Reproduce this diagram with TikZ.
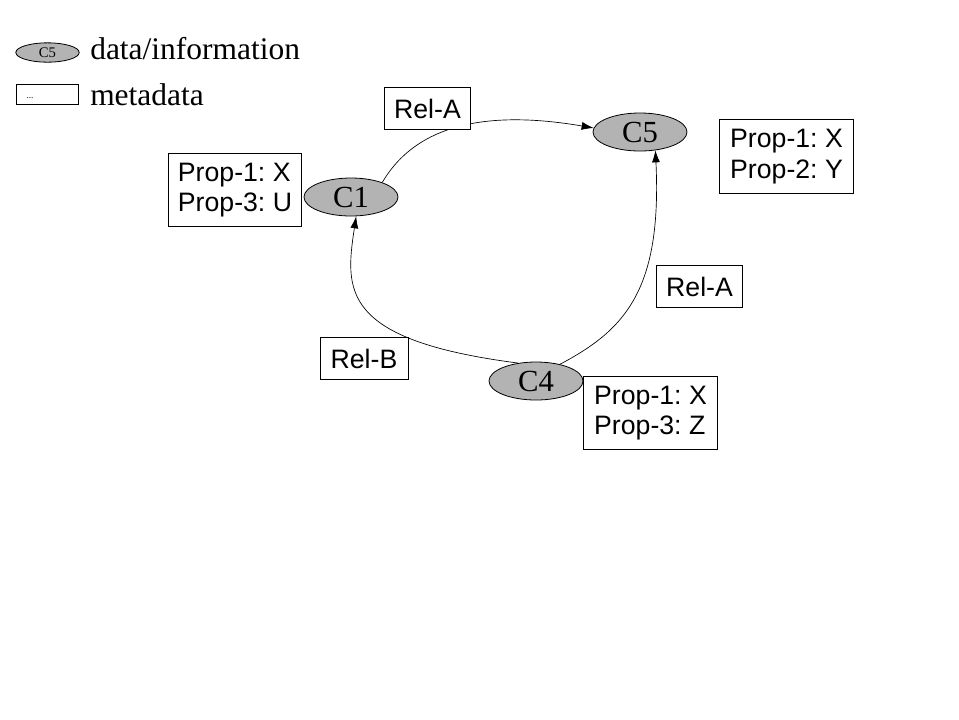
\documentclass[tikz,border=0pt]{standalone}
\usepackage{fontspec}
\setmainfont{Liberation Serif}
\newfontfamily\arialf{Liberation Sans}
\usetikzlibrary{shapes.geometric,arrows.meta}
\definecolor{nodegray}{RGB}{179,179,179}
\frenchspacing
\tikzset{
  datanode/.style={ellipse, draw=black, line width=0.6pt, fill=nodegray,
    minimum width=70.5pt, minimum height=28.5pt, inner sep=0pt,
    font=\fontsize{23}{24}\selectfont},
  metabox/.style={rectangle, draw=black, line width=0.6pt, fill=white,
    inner sep=0pt, align=left, font=\arialf\fontsize{20}{23}\selectfont},
  relbox/.style={metabox, minimum width=64pt, minimum height=31pt},
  propbox/.style={metabox, minimum width=100pt, minimum height=55pt},
  conn/.style={line width=0.5pt, -{Latex[length=9pt,width=6pt]}},
  legendtext/.style={anchor=base west, inner sep=0pt, font=\fontsize{23.6}{26}\selectfont}
}
\begin{document}
\begin{tikzpicture}[x=0.75pt,y=-0.75pt]
\useasboundingbox (0,0) rectangle (959,719);
\fill[white] (0,0) rectangle (959,719);

% legend
\node[ellipse, draw=black, line width=0.6pt, fill=nodegray, minimum width=47.5pt, minimum height=14.5pt,
  inner sep=0pt, font=\fontsize{11}{12}\selectfont] (legC) at (47.5,52.5) {C5};
\node[legendtext] (legD) at (90,59) {data/information};
\node[rectangle, draw=black, line width=0.6pt, minimum width=46.5pt, minimum height=15.5pt,
  inner sep=0pt] (legR) at (47,94.5) {};
\node[anchor=base, inner sep=0pt, font=\fontsize{7}{8}\selectfont] (legDots) at (30,98) {...};
\node[legendtext] (legM) at (90,105) {metadata};

% data nodes
\node[datanode] (C5) at (640,132) {C5};
\node[datanode] (C1) at (351,197) {C1};
\node[datanode] (C4) at (536,381) {C4};

% connectors
\draw[conn] (C1.25) .. controls (420,118) and (500,112) .. (C5.175);
\draw[conn] (C4.135) .. controls (340,340) and (345,290) .. (C1.-75);
\draw[conn] (C4.35) .. controls (625,330) and (662,290) .. (C5.-50);

% metadata boxes
\node[propbox] (P1) at (235,190) {Prop-1: X\\Prop-3: U};
\node[propbox] (P5) at (786.5,156.5) {Prop-1: X\\Prop-2: Y};
\node[propbox] (P4) at (650.5,413) {Prop-1: X\\Prop-3: Z};
\node[relbox] (RA1) at (427.5,108.5) {Rel-A};
\node[relbox] (RA2) at (699.5,286.5) {Rel-A};
\node[relbox, minimum width=66pt] (RB) at (364,358.5) {Rel-B};
\end{tikzpicture}
\end{document}
